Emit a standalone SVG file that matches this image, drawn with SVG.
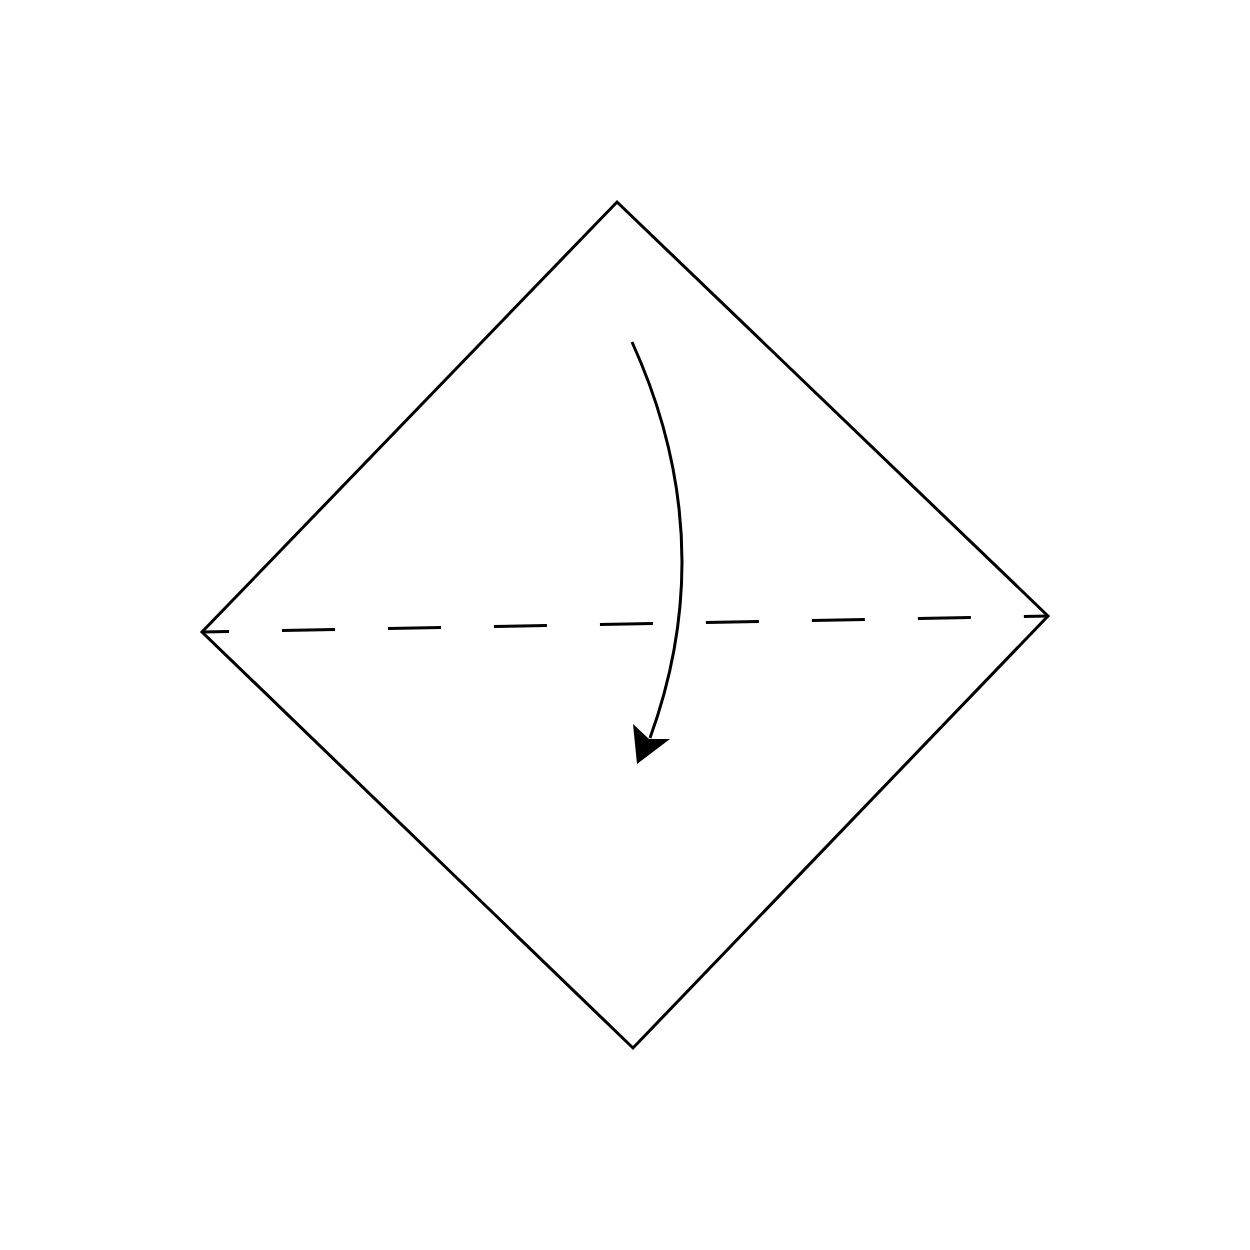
<svg xmlns="http://www.w3.org/2000/svg" width="1250" height="1250" viewBox="0 0 1250 1250">
<style>
.edge{fill:none;stroke:#000;stroke-width:3}
.fold{fill:none;stroke:#000;stroke-width:3;stroke-dasharray:53 53;stroke-dashoffset:26}
.arrow{fill:none;stroke:#000;stroke-width:3}
</style>
<rect width="1250" height="1250" fill="#fff"/>
<g id="paper">
<polygon class="edge" points="617,202 1048,616 633,1048 202,632"/>
</g>
<g id="connectors">
<line class="fold" x1="202" y1="632" x2="1048" y2="616"/>
<path class="arrow" d="M632,342 Q722,540 650,738"/>
<polygon points="637,764 633,724 649,739 670,739" fill="#000"/>
</g>
</svg>
